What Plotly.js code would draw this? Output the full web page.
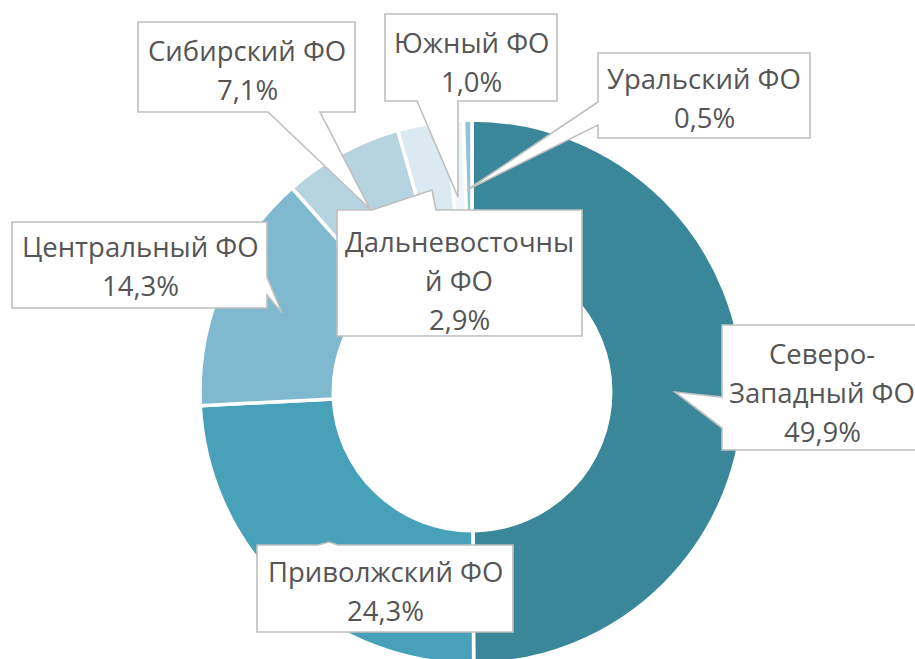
<!DOCTYPE html>
<html><head><meta charset="utf-8">
<script src="https://cdn.plot.ly/plotly-3.0.1.min.js"></script>
<style>html,body{margin:0;padding:0;overflow:hidden;background:#fff}#chart{width:915px;height:700px}</style>
</head><body><div id="chart"></div>
<script>
// ---- data ----
const regions = ['Северо-Западный ФО','Приволжский ФО','Центральный ФО','Сибирский ФО','Дальневосточный ФО','Южный ФО','Уральский ФО'];
const labelLines = [['Северо-','Западный ФО'],['Приволжский ФО'],['Центральный ФО'],['Сибирский ФО'],['Дальневосточны','й ФО'],['Южный ФО'],['Уральский ФО']];
const shares = [49.9, 24.3, 14.3, 7.1, 2.9, 1.0, 0.5];

// ---- styles ----
const sliceColors = ['#3a8799','#47a1b8','#7fb9cf','#b5d4e0','#daeaf0','#eef6f9','#93c3d4'];
const W = 915, H = 700;
// callout layout (pixels): box, pointer, text centre
const callouts = [
  {box:[722,325,925,450], side:'left',   a:397, b:428, tip:[675,392], cx:822, y0:353},
  {box:[257,545,513,632], side:'top',    a:318, b:338, tip:[329,542], cx:385, y0:571},
  {box:[12,222,267,308],  side:'right',  a:277, b:295, tip:[282,313], cx:140, y0:246},
  {box:[138,22,355,112],  side:'bottom', a:268, b:320, tip:[370,209], cx:247, y0:51},
  {box:[337,210,582,336], side:'top',    a:372, b:436, tip:[432,190], cx:459, y0:241},
  {box:[385,14,557,101],  side:'bottom', a:417, b:458, tip:[458,197], cx:471, y0:43},
  {box:[598,53,810,138],  side:'left',   a:102, b:125, tip:[467,190], cx:704, y0:78}
];
const lineGap = 39;

const px = x => x / W, py = y => 1 - y / H;
function pt(x, y){ return px(x).toFixed(5) + ',' + py(y).toFixed(5); }
function calloutPath(c){
  const [x0,y0,x1,y1] = c.box, t = c.tip;
  let p = 'M' + pt(x0,y0);
  if (c.side === 'top') p += ' L' + pt(c.a,y0) + ' L' + pt(t[0],t[1]) + ' L' + pt(c.b,y0);
  p += ' L' + pt(x1,y0);
  if (c.side === 'right') p += ' L' + pt(x1,c.a) + ' L' + pt(t[0],t[1]) + ' L' + pt(x1,c.b);
  p += ' L' + pt(x1,y1);
  if (c.side === 'bottom') p += ' L' + pt(c.b,y1) + ' L' + pt(t[0],t[1]) + ' L' + pt(c.a,y1);
  p += ' L' + pt(x0,y1);
  if (c.side === 'left') p += ' L' + pt(x0,c.b) + ' L' + pt(t[0],t[1]) + ' L' + pt(x0,c.a);
  return p + ' Z';
}

const shapes = callouts.map(c => ({
  type:'path', xref:'paper', yref:'paper', layer:'above',
  path: calloutPath(c), fillcolor:'#ffffff', line:{color:'#bfbfbf', width:1.6}
}));

const annotations = [];
shares.forEach((v, i) => {
  const c = callouts[i];
  const lines = labelLines[i].concat([v.toFixed(1).replace('.', ',') + '%']);
  lines.forEach((t, k) => annotations.push({
    xref:'paper', yref:'paper', x:px(c.cx), y:py(c.y0 + k*lineGap),
    xanchor:'center', yanchor:'middle', showarrow:false, text:t,
    font:{family:'Open Sans, sans-serif', size:27.5, color:'#555555'}
  }));
});

const trace = {
  type:'pie', labels:regions, values:shares, sort:false, direction:'clockwise', rotation:0,
  hole:0.51, textinfo:'none', hoverinfo:'label+percent',
  marker:{colors:sliceColors, line:{color:'#ffffff', width:3.5}},
  domain:{x:[200/W, 744/W], y:[(H-664)/H, (H-120)/H]}
};

Plotly.newPlot('chart', [trace], {
  width:W, height:H, margin:{l:0,r:0,t:0,b:0}, showlegend:false,
  paper_bgcolor:'#ffffff', shapes:shapes, annotations:annotations
}, {displayModeBar:false, staticPlot:true});
</script></body></html>
